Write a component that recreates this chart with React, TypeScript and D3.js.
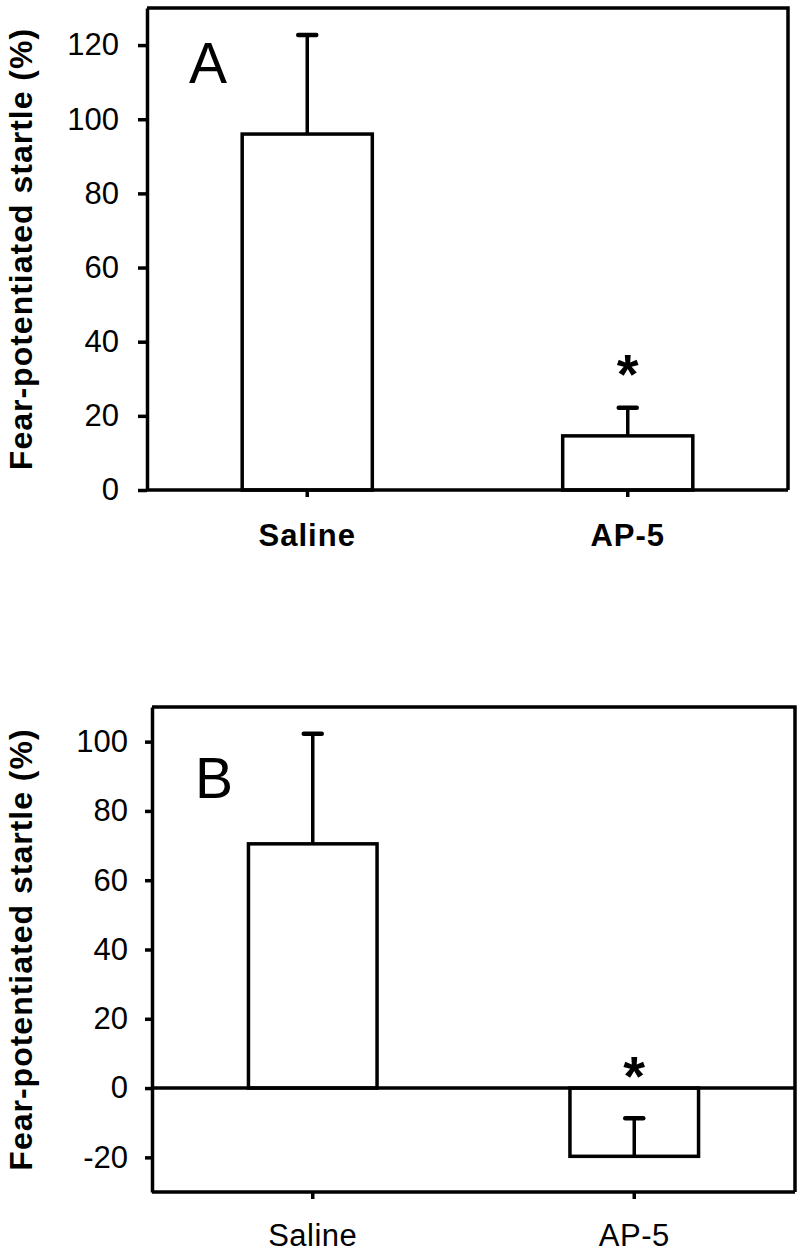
import {useEffect, useRef} from 'react';
import * as d3 from 'd3';

const [W, H] = [800, 1253];
const FONT = '"Liberation Sans", Arial, Helvetica, sans-serif';
const LW = 3.5;

// data
const groups = ['Saline', 'AP-5'];
const meanA = [96, 14.6];
const errA = [26.7, 7.6];
const meanB = [70.5, -19.7];
const errB = [31.8, 11];
const ticksA = [0, 20, 40, 60, 80, 100, 120];
const ticksB = [-20, 0, 20, 40, 60, 80, 100];
const yLabel = 'Fear-potentiated startle (%)';

const panels = [
    {letter: 'A', means: meanA, errs: errA, ticks: ticksA, domain: [0, 130],
     left: 147, right: 788, top: 8, bottom: 490, tickSize: 9, tickPad: 19,
     boldCats: true, catPad: 27, pad: 0.594, letterX: 208, letterY: 83, starGap: 47},
    {letter: 'B', means: meanB, errs: errB, ticks: ticksB, domain: [-30, 110],
     left: 152, right: 795, top: 707, bottom: 1192, tickSize: 7, tickPad: 17,
     boldCats: false, catPad: 25, pad: 0.6, letterX: 214, letterY: 798, starGap: 25},
];

function drawPanel(svg, p) {
    const g = svg.append('g');
    const y = d3.scaleLinear().domain(p.domain).range([p.bottom, p.top]);
    const x = d3.scaleBand().domain(groups).range([p.left, p.right])
        .paddingInner(p.pad).paddingOuter(p.pad / 2);
    const bw = x.bandwidth();
    const cx = i => x(groups[i]) + bw / 2;

    // frame top + right
    g.append('path')
        .attr('d', `M${p.left},${p.top}H${p.right}V${p.bottom}`)
        .attr('fill', 'none').attr('stroke', '#000').attr('stroke-width', LW);

    // bars (start at zero)
    g.selectAll('rect.bar').data(p.means).enter().append('rect')
        .attr('x', (d, i) => x(groups[i]))
        .attr('y', d => y(Math.max(0, d)))
        .attr('width', bw)
        .attr('height', d => Math.abs(y(d) - y(0)))
        .attr('fill', '#fff').attr('stroke', '#000').attr('stroke-width', LW);

    // error bars, always drawn upward from the bar end
    const eb = g.selectAll('g.err').data(p.means).enter().append('g');
    eb.append('line')
        .attr('x1', (d, i) => cx(i)).attr('x2', (d, i) => cx(i))
        .attr('y1', d => y(d))
        .attr('y2', (d, i) => y(d + p.errs[i]))
        .attr('stroke', '#000').attr('stroke-width', LW);
    eb.append('line')
        .attr('x1', (d, i) => cx(i) - 9).attr('x2', (d, i) => cx(i) + 9)
        .attr('y1', (d, i) => y(d + p.errs[i]))
        .attr('y2', (d, i) => y(d + p.errs[i]))
        .attr('stroke', '#000').attr('stroke-width', 4.5).attr('stroke-linecap', 'round');

    // zero line when the axis goes below zero
    if (p.domain[0] < 0) {
        g.append('line')
            .attr('x1', p.left).attr('x2', p.right)
            .attr('y1', y(0)).attr('y2', y(0))
            .attr('stroke', '#000').attr('stroke-width', LW);
    }

    // axes
    const ya = g.append('g').attr('transform', `translate(${p.left},0)`)
        .call(d3.axisLeft(y).tickValues(p.ticks).tickSize(p.tickSize)
            .tickSizeOuter(0).tickPadding(p.tickPad).tickFormat(d => String(d)));
    ya.selectAll('path, line').attr('stroke', '#000').attr('stroke-width', LW);
    ya.selectAll('text').style('font-family', FONT).style('font-size', '31px').attr('fill', '#000');

    const xa = g.append('g').attr('transform', `translate(0,${p.bottom})`)
        .call(d3.axisBottom(x).tickSize(7).tickSizeOuter(0).tickPadding(p.catPad));
    xa.select('path').attr('d', `M${p.left},0H${p.right}`);
    xa.selectAll('path, line').attr('stroke', '#000').attr('stroke-width', LW);
    xa.selectAll('text').style('font-family', FONT).style('font-size', '31px')
        .style('font-weight', p.boldCats ? 'bold' : 'normal')
        .style('letter-spacing', p.boldCats ? '1px' : '0.5px').attr('fill', '#000');

    // y label
    g.append('text')
        .attr('transform', `translate(21,${(p.top + p.bottom) / 2}) rotate(-90)`)
        .attr('text-anchor', 'middle').attr('dominant-baseline', 'central')
        .style('font-family', FONT).style('font-size', '32px').style('font-weight', 'bold')
        .style('letter-spacing', '1px')
        .text(yLabel);

    // panel letter
    g.append('text')
        .attr('x', p.letterX).attr('y', p.letterY).attr('text-anchor', 'middle')
        .style('font-family', FONT).style('font-size', '57px')
        .text(p.letter);

    // significance star above AP-5
    const k = 1;
    const fs = 56;
    const ref = p.means[k] >= 0 ? y(p.means[k] + p.errs[k]) : y(0);
    g.append('text')
        .attr('x', cx(k)).attr('y', ref - p.starGap + 0.57 * fs)
        .attr('text-anchor', 'middle')
        .style('font-family', FONT).style('font-size', `${fs}px`).style('font-weight', 'bold')
        .text('*');
}

function App() {
    const ref = useRef();

    useEffect(() => {
        const svg = d3.select(ref.current);
        svg.selectAll('*').remove();
        panels.forEach(p => drawPanel(svg, p));
    }, []);

    return (
        <svg ref={ref} width={W} height={H}
             style={{position: 'absolute', left: 0, top: 0, background: '#fff'}} />
    );
}

export default App;
